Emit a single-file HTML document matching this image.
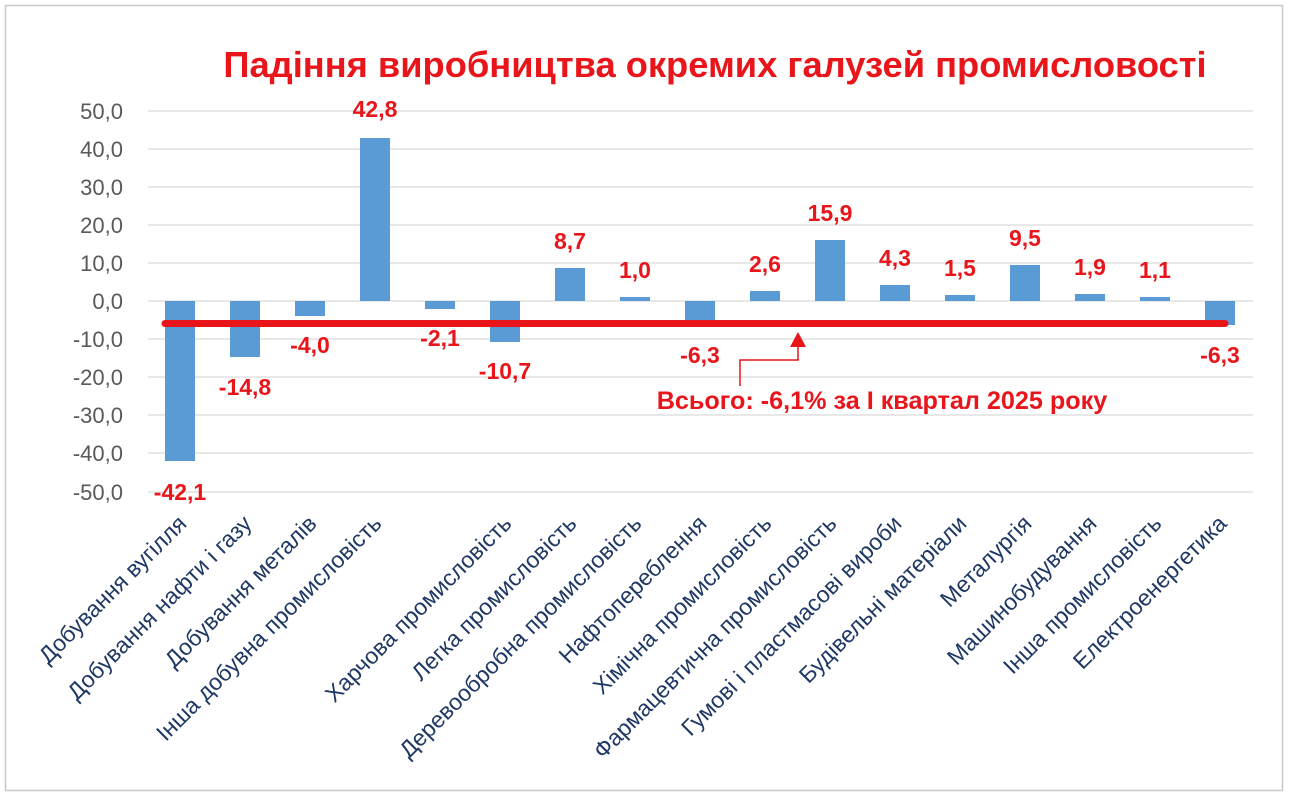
<!DOCTYPE html>
<html><head><meta charset="utf-8"><style>
body{margin:0;background:#fff;}
svg{display:block;font-family:"Liberation Sans",sans-serif;}
</style></head><body>
<svg width="1289" height="796" viewBox="0 0 1289 796" xmlns="http://www.w3.org/2000/svg">
<rect x="5.5" y="5.5" width="1277" height="785" fill="#fff" stroke="#c8c8c8" stroke-width="1.5"/>
<text x="715" y="77" text-anchor="middle" font-size="36.3" font-weight="bold" fill="#e8151b">Падіння виробництва окремих галузей промисловості</text>
<g stroke="#d9d9d9" stroke-width="1.3">
<line x1="148" x2="1253" y1="111" y2="111"/><line x1="148" x2="1253" y1="149" y2="149"/>
<line x1="148" x2="1253" y1="187" y2="187"/><line x1="148" x2="1253" y1="225" y2="225"/>
<line x1="148" x2="1253" y1="263" y2="263"/><line x1="148" x2="1253" y1="301" y2="301"/>
<line x1="148" x2="1253" y1="339" y2="339"/><line x1="148" x2="1253" y1="377" y2="377"/>
<line x1="148" x2="1253" y1="415" y2="415"/><line x1="148" x2="1253" y1="453" y2="453"/>
<line x1="148" x2="1253" y1="492" y2="492"/>
</g>
<g font-size="22" fill="#595959" text-anchor="end">
<text x="123" y="119">50,0</text><text x="123" y="157">40,0</text><text x="123" y="195">30,0</text>
<text x="123" y="233">20,0</text><text x="123" y="271">10,0</text><text x="123" y="309">0,0</text>
<text x="123" y="347">-10,0</text><text x="123" y="385">-20,0</text><text x="123" y="423">-30,0</text>
<text x="123" y="461">-40,0</text><text x="123" y="500">-50,0</text>
</g>
<g fill="#5b9bd5">
<rect x="165" y="301" width="30" height="160"/>
<rect x="230" y="301" width="30" height="56"/>
<rect x="295" y="301" width="30" height="15"/>
<rect x="360" y="138" width="30" height="163"/>
<rect x="425" y="301" width="30" height="8"/>
<rect x="490" y="301" width="30" height="41"/>
<rect x="555" y="268" width="30" height="33"/>
<rect x="620" y="297" width="30" height="4"/>
<rect x="685" y="301" width="30" height="24"/>
<rect x="750" y="291" width="30" height="10"/>
<rect x="815" y="240" width="30" height="61"/>
<rect x="880" y="285" width="30" height="16"/>
<rect x="945" y="295" width="30" height="6"/>
<rect x="1010" y="265" width="30" height="36"/>
<rect x="1075" y="294" width="30" height="7"/>
<rect x="1140" y="297" width="30" height="4"/>
<rect x="1205" y="301" width="30" height="24"/>
</g>
<line x1="165" x2="1225" y1="323.5" y2="323.5" stroke="#e8151b" stroke-width="7" stroke-linecap="round"/>
<polygon points="798,332 790,347 806,347" fill="#e8151b"/>
<polyline points="798,347 798,360 740,360 740,386" fill="none" stroke="#e8151b" stroke-width="1.5"/>
<g font-size="23" font-weight="bold" fill="#e8151b" text-anchor="middle">
<text x="180" y="500">-42,1</text>
<text x="245" y="395">-14,8</text>
<text x="310" y="353">-4,0</text>
<text x="375" y="117">42,8</text>
<text x="440" y="346">-2,1</text>
<text x="505" y="379">-10,7</text>
<text x="570" y="249">8,7</text>
<text x="635" y="278">1,0</text>
<text x="700" y="363">-6,3</text>
<text x="765" y="272">2,6</text>
<text x="830" y="221">15,9</text>
<text x="895" y="266">4,3</text>
<text x="960" y="276">1,5</text>
<text x="1025" y="246">9,5</text>
<text x="1090" y="275">1,9</text>
<text x="1155" y="278">1,1</text>
<text x="1220" y="363">-6,3</text>
</g>
<text x="882" y="409" font-size="25.2" font-weight="bold" fill="#e8151b" text-anchor="middle">Всього: -6,1% за І квартал 2025 року</text>
<g font-size="23" fill="#1f3864" text-anchor="end">
<text transform="translate(188,525) rotate(-45)">Добування вугілля</text>
<text transform="translate(253,525) rotate(-45)">Добування нафти і газу</text>
<text transform="translate(318,525) rotate(-45)">Добування металів</text>
<text transform="translate(383,525) rotate(-45)">Інша добувна промисловість</text>
<text transform="translate(513,525) rotate(-45)">Харчова промисловість</text>
<text transform="translate(578,525) rotate(-45)">Легка промисловість</text>
<text transform="translate(643,525) rotate(-45)">Деревообробна промисловість</text>
<text transform="translate(708,525) rotate(-45)">Нафтопереблення</text>
<text transform="translate(773,525) rotate(-45)">Хімічна промисловість</text>
<text transform="translate(838,525) rotate(-45)">Фармацевтична промисловість</text>
<text transform="translate(903,525) rotate(-45)">Гумові і пластмасові вироби</text>
<text transform="translate(968,525) rotate(-45)">Будівельні матеріали</text>
<text transform="translate(1033,525) rotate(-45)">Металургія</text>
<text transform="translate(1098,525) rotate(-45)">Машинобудування</text>
<text transform="translate(1163,525) rotate(-45)">Інша промисловість</text>
<text transform="translate(1228,525) rotate(-45)">Електроенергетика</text>
</g>
</svg>
</body></html>
